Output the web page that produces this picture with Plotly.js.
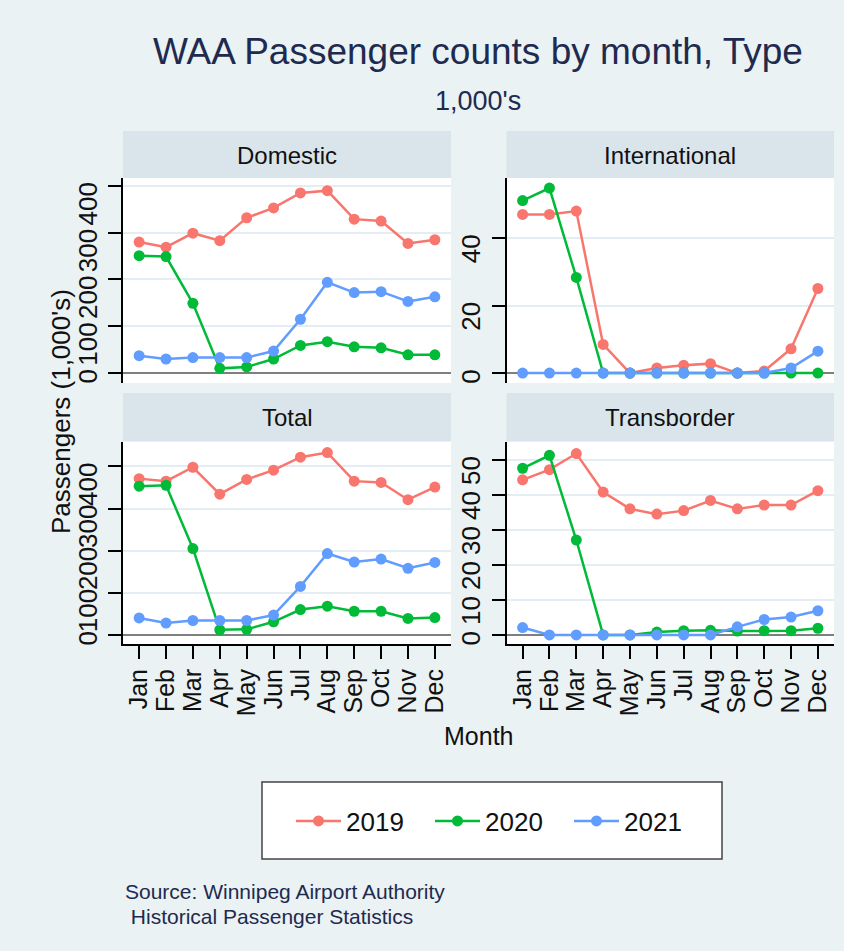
<!DOCTYPE html>
<html>
<head>
<meta charset="utf-8">
<script src="https://cdn.plot.ly/plotly-3.0.1.min.js"></script>
<style>
  html, body { margin: 0; padding: 0; background: #eaf2f3; }
  #chart { width: 844px; height: 951px; }
</style>
</head>
<body>
<div id="chart"></div>
<script>
// values in 1,000's
const months = ['Jan', 'Feb', 'Mar', 'Apr', 'May', 'Jun', 'Jul', 'Aug', 'Sep', 'Oct', 'Nov', 'Dec'];
const years = ['2019', '2020', '2021'];
const panelNames = ['Domestic', 'International', 'Total', 'Transborder'];

const domestic2019 = [280, 269, 299, 283, 332, 353, 385, 390, 329, 325, 277, 285];
const domestic2020 = [251, 249, 149, 10, 13, 30, 59, 67, 56, 54, 39, 39];
const domestic2021 = [37, 30, 33, 33, 33, 47, 115, 194, 172, 174, 153, 163];

const international2019 = [47.1, 47.1, 48.1, 8.5, 0, 1.5, 2.3, 2.8, 0, 0.6, 7.2, 25.1];
const international2020 = [51.2, 54.9, 28.4, 0, 0, 0, 0, 0, 0, 0, 0, 0];
const international2021 = [0, 0, 0, 0, 0, 0, 0, 0, 0, 0, 1.5, 6.5];

const total2019 = [371, 365, 398, 334, 369, 391, 422, 433, 365, 362, 321, 351];
const total2020 = [353, 355, 205, 12, 13, 31, 60, 68, 56, 56, 39, 41];
const total2021 = [40, 28, 34, 34, 34, 47, 115, 193, 173, 180, 158, 172];

const transborder2019 = [44.3, 47.2, 51.8, 40.8, 36.0, 34.5, 35.5, 38.4, 36.0, 37.1, 37.1, 41.2];
const transborder2020 = [47.6, 51.3, 27.1, 0, 0, 0.8, 1.2, 1.3, 1.1, 1.2, 1.2, 1.9];
const transborder2021 = [2.1, 0, 0, 0, 0, 0, 0, 0, 2.3, 4.4, 5.1, 6.9];

const domesticTicks = [0, 100, 200, 300, 400];
const internationalTicks = [0, 20, 40];
const totalTicks = [0, 100, 200, 300, 400];
const transborderTicks = [0, 10, 20, 30, 40, 50];

const yearColors = ['#F8766D', '#00BA38', '#619CFF'];
const FONT = '"Liberation Sans", Arial, sans-serif';
const NAVY = '#1f2a4f';
const W = 844, H = 951;

// pixel helpers for paper coords
const px = (x) => x / W;
const py = (y) => 1 - y / H;

const panels = [
  { series: [domestic2019, domestic2020, domestic2021], ticks: domesticTicks, range: [-21.3, 417], col: 0, row: 0 },
  { series: [international2019, international2020, international2021], ticks: internationalTicks, range: [-2.95, 57.9], col: 1, row: 0 },
  { series: [total2019, total2020, total2021], ticks: totalTicks, range: [-21.8, 458], col: 0, row: 1 },
  { series: [transborder2019, transborder2020, transborder2021], ticks: transborderTicks, range: [-2.6, 55.1], col: 1, row: 1 },
];

const colX = [[123, 451], [506.5, 834]];
const rowPlotY = [[178, 383], [442, 644]];
const rowHeadY = [[131, 178], [393, 441]];

// Stata puts the end of a vertical label on the tick; pad with nbsp so the
// centred Plotly label lands the same way (nbsp = half a digit)
function padLabel(v) {
  const s = String(v);
  return s + '\u00a0'.repeat(2 * s.length);
}

const traces = [];
const layout = {
  width: W,
  height: H,
  margin: { l: 0, r: 0, t: 0, b: 0 },
  paper_bgcolor: '#eaf2f3',
  plot_bgcolor: '#ffffff',
  font: { family: FONT, color: '#111111' },
  showlegend: true,
  legend: {
    orientation: 'h',
    x: px(291), xanchor: 'left',
    y: py(821), yanchor: 'middle',
    bgcolor: 'rgba(0,0,0,0)',
    borderwidth: 0,
    itemwidth: 45,
    entrywidth: 79,
    font: { family: FONT, size: 26, color: '#111111' },
  },
  title: {
    text: 'WAA Passenger counts by month, Type',
    x: px(478), xanchor: 'center',
    y: py(51), yanchor: 'middle',
    xref: 'paper', yref: 'paper',
    font: { family: FONT, size: 37, color: NAVY },
  },
  shapes: [],
  annotations: [],
};

panels.forEach((p, i) => {
  const sfx = i === 0 ? '' : String(i + 1);
  const [x0, x1] = colX[p.col];
  const [yTop, yBot] = rowPlotY[p.row];
  const [hTop, hBot] = rowHeadY[p.row];
  const isBottom = p.row === 1;

  p.series.forEach((vals, j) => {
    traces.push({
      x: months,
      y: vals,
      xaxis: 'x' + sfx,
      yaxis: 'y' + sfx,
      type: 'scatter',
      mode: 'lines+markers',
      name: years[j],
      legendgroup: years[j],
      showlegend: i === 0,
      line: { color: yearColors[j], width: 2.5 },
      marker: { color: yearColors[j], size: 11 },
      hoverinfo: 'skip',
    });
  });

  layout['xaxis' + sfx] = {
    domain: [px(x0), px(x1)],
    anchor: 'y' + sfx,
    type: 'category',
    categoryorder: 'array',
    categoryarray: months,
    range: [-0.6, 11.6],
    tickmode: 'array',
    tickvals: months,
    ticktext: months,
    showgrid: false,
    zeroline: false,
    showline: isBottom,
    linecolor: '#000000',
    linewidth: 2,
    ticks: isBottom ? 'outside' : '',
    ticklen: 13,
    tickwidth: 2,
    tickcolor: '#000000',
    showticklabels: isBottom,
    tickangle: -90,
    tickfont: { family: FONT, size: 25, color: '#111111' },
    fixedrange: true,
  };

  layout['yaxis' + sfx] = {
    domain: [py(yBot), py(yTop)],
    anchor: 'x' + sfx,
    range: p.range,
    tickmode: 'array',
    tickvals: p.ticks,
    ticktext: p.ticks.map(padLabel),
    tickangle: -90,
    tickfont: { family: FONT, size: 26, color: '#111111' },
    ticks: 'outside',
    ticklen: 13,
    tickwidth: 2,
    tickcolor: '#000000',
    ticklabelstandoff: 1,
    showline: true,
    linecolor: '#000000',
    linewidth: 2,
    showgrid: true,
    gridcolor: '#e4edf1',
    gridwidth: 2,
    zeroline: true,
    zerolinecolor: '#7f7f7f',
    zerolinewidth: 2,
    fixedrange: true,
  };

  // strip header behind the panel name
  layout.shapes.push({
    type: 'rect', xref: 'paper', yref: 'paper', layer: 'below',
    x0: px(x0), x1: px(x1), y0: py(hBot), y1: py(hTop),
    fillcolor: '#d9e5eb', line: { width: 0 },
  });
  layout.annotations.push({
    text: panelNames[i],
    xref: 'paper', yref: 'paper',
    x: px((x0 + x1) / 2), y: py((hTop + hBot) / 2 + 1),
    xanchor: 'center', yanchor: 'middle',
    showarrow: false,
    font: { family: FONT, size: 24, color: '#111111' },
  });
});

// legend frame
layout.shapes.push({
  type: 'rect', xref: 'paper', yref: 'paper', layer: 'below',
  x0: px(262), x1: px(722), y0: py(859), y1: py(782),
  fillcolor: '#ffffff', line: { color: '#444444', width: 1.5 },
});

layout.annotations.push(
  {
    text: "1,000's",
    xref: 'paper', yref: 'paper', x: px(478), y: py(101),
    xanchor: 'center', yanchor: 'middle', showarrow: false,
    font: { family: FONT, size: 27, color: NAVY },
  },
  {
    text: "Passengers (1,000's)",
    xref: 'paper', yref: 'paper', x: px(61), y: py(412),
    xanchor: 'center', yanchor: 'middle', textangle: -90, showarrow: false,
    font: { family: FONT, size: 26, color: '#111111' },
  },
  {
    text: 'Month',
    xref: 'paper', yref: 'paper', x: px(479), y: py(736),
    xanchor: 'center', yanchor: 'middle', showarrow: false,
    font: { family: FONT, size: 25, color: '#111111' },
  },
  {
    text: 'Source: Winnipeg Airport Authority',
    xref: 'paper', yref: 'paper', x: px(123), y: py(891),
    xanchor: 'left', yanchor: 'middle', showarrow: false,
    font: { family: FONT, size: 21, color: NAVY },
  },
  {
    text: '\u00a0Historical Passenger Statistics',
    xref: 'paper', yref: 'paper', x: px(123), y: py(916),
    xanchor: 'left', yanchor: 'middle', showarrow: false,
    font: { family: FONT, size: 21, color: NAVY },
  }
);

Plotly.newPlot('chart', traces, layout, { displayModeBar: false, staticPlot: true });
</script>
</body>
</html>
